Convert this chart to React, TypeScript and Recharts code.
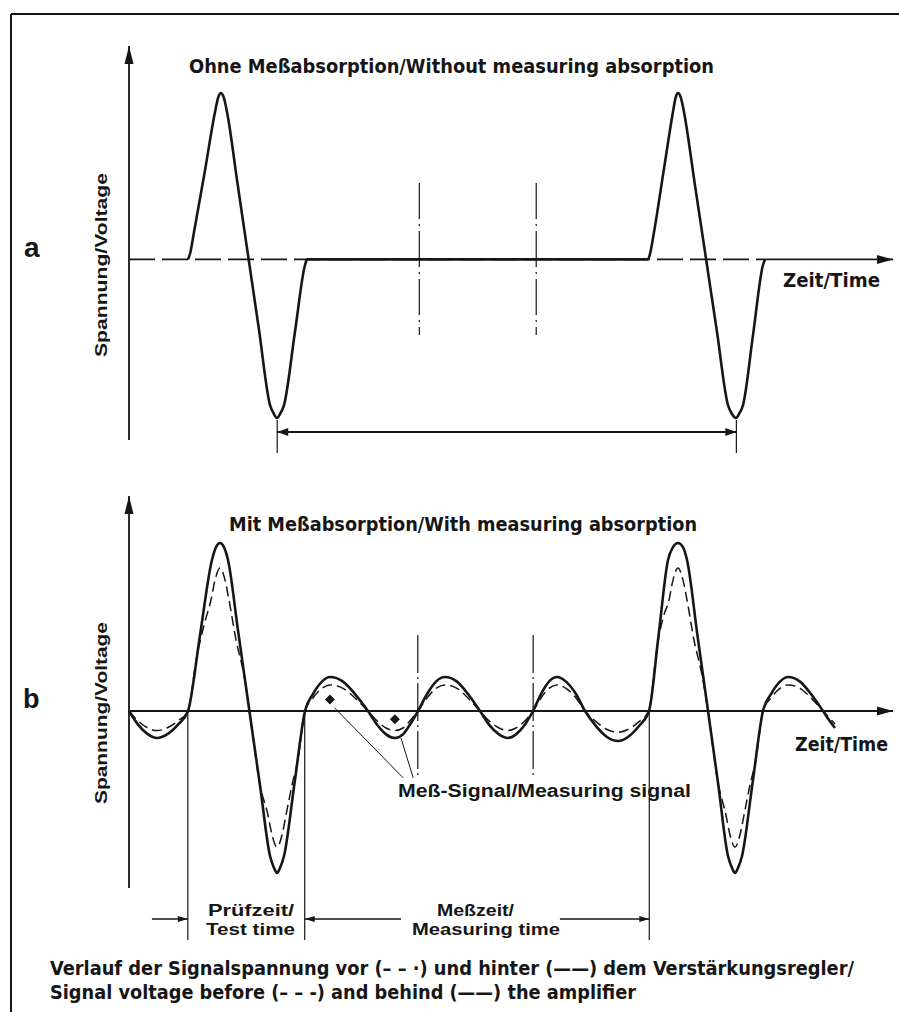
import React from 'react';
import { ComposedChart, Line, XAxis, YAxis, ReferenceLine, ReferenceDot } from 'recharts';

const INK = '#161616';

// time runs 0..100 along the axis, voltage in units of the full pulse height

// panel a: without measuring absorption
const aTime = [
  7.72, 7.98, 8.51, 9.9, 11.26, 11.65, 12.04, 12.43, 12.83, 14.2, 15.6, 17.0, 18.46, 18.98, 19.37, 19.76, 20.29, 21.7, 23.04, 23.3,
  67.93, 68.19, 68.72, 69.96, 71.2, 71.53, 71.86, 72.25, 72.64, 74.08, 75.54, 76.96, 78.4, 78.93, 79.45, 79.84, 80.37, 81.68, 82.98, 83.25,
];
const aVolt = [
  0, 0.033, 0.167, 0.53, 0.898, 0.983, 1.013, 0.983, 0.898, 0.464, 0.02, -0.424, -0.887, -0.942, -0.966, -0.942, -0.887, -0.45, -0.034, 0,
  0, 0.033, 0.167, 0.533, 0.898, 0.983, 1.013, 0.983, 0.898, 0.452, 0, -0.441, -0.887, -0.942, -0.966, -0.942, -0.887, -0.46, -0.034, 0,
];

// panel b: with measuring absorption, behind the amplifier (solid)
const bTime = [
  0, 1.18, 2.49, 3.66, 4.97, 6.41, 7.72, 9.29, 10.86, 11.39, 11.91, 12.43, 12.96, 14.27, 15.76, 17.15, 18.46, 18.98, 19.37, 19.76, 20.29, 21.66, 23.04,
  24.08, 25.26, 26.31, 28.01, 29.58, 31.28, 32.46, 33.64, 34.82, 35.86, 36.78, 37.83, 39.01, 40.18, 41.36, 42.93, 44.37, 45.94,
  47.12, 48.43, 49.61, 50.65, 51.83, 52.88, 53.93, 54.97, 56.02, 57.2, 58.51, 59.69, 61.13, 62.57, 64.01, 65.31, 66.75, 68.06,
  69.31, 70.55, 71.2, 71.86, 72.51, 73.04, 74.41, 75.79, 77.1, 78.4, 78.93, 79.32, 79.71, 80.24, 81.61, 82.98,
  84.03, 85.21, 86.26, 87.83, 89.27, 90.84, 91.62, 92.41,
];
const bSolid = [
  0, -0.083, -0.143, -0.165, -0.143, -0.083, 0, 0.463, 0.925, 1.004, 1.029, 1.004, 0.925, 0.493, 0, -0.456, -0.888, -0.961, -0.992, -0.961, -0.888, -0.444, 0,
  0.104, 0.18, 0.208, 0.18, 0.104, 0, -0.083, -0.143, -0.165, -0.143, -0.083, 0, 0.104, 0.18, 0.208, 0.18, 0.104, 0,
  -0.083, -0.143, -0.165, -0.143, -0.083, 0, 0.104, 0.18, 0.208, 0.18, 0.104, 0, -0.092, -0.159, -0.184, -0.159, -0.092, 0,
  0.462, 0.925, 1.004, 1.029, 1.004, 0.925, 0.462, 0, -0.441, -0.888, -0.961, -0.992, -0.961, -0.888, -0.444, 0,
  0.104, 0.18, 0.208, 0.18, 0.104, 0, -0.055, -0.104,
];

// panel b: before the amplifier (dashed)
const bDashTime = [
  0, 1.18, 2.49, 3.66, 4.97, 6.41, 7.72, 8.77, 9.82, 10.73, 11.26, 11.91, 12.57, 13.09, 14.01, 15.05, 15.76,
  17.15, 18.19, 18.72, 19.37, 20.03, 20.55, 21.34, 22.12, 23.04,
  24.08, 25.26, 26.31, 28.01, 29.58, 31.28, 32.46, 33.64, 34.82, 35.86, 36.78, 37.83, 39.01, 40.18, 41.36, 42.93, 44.37, 45.94,
  47.12, 48.43, 49.61, 50.65, 51.83, 52.88, 53.93, 54.97, 56.02, 57.2, 58.51, 59.69, 61.13, 62.57, 64.01, 65.31, 66.75, 68.06,
  69.11, 69.9, 70.68, 71.2, 71.86, 72.51, 73.04, 73.95, 75.0, 75.79,
  77.1, 78.14, 78.66, 79.32, 79.97, 80.5, 81.28, 82.07, 82.98,
  84.03, 85.21, 86.26, 87.83, 89.27, 90.84, 91.62, 92.41,
];
const bDashed = [
  0, -0.06, -0.104, -0.12, -0.104, -0.06, 0, 0.306, 0.527, 0.68, 0.802, 0.876, 0.802, 0.68, 0.435, 0.22, 0,
  -0.456, -0.637, -0.759, -0.833, -0.759, -0.637, -0.453, -0.294, 0,
  0.08, 0.139, 0.16, 0.139, 0.08, 0, -0.06, -0.104, -0.12, -0.104, -0.06, 0, 0.08, 0.139, 0.16, 0.139, 0.08, 0,
  -0.06, -0.104, -0.12, -0.104, -0.06, 0, 0.08, 0.139, 0.16, 0.139, 0.08, 0, -0.065, -0.113, -0.13, -0.113, -0.065, 0,
  0.386, 0.57, 0.68, 0.802, 0.876, 0.802, 0.68, 0.435, 0.22, 0,
  -0.441, -0.637, -0.759, -0.833, -0.759, -0.637, -0.453, -0.294, 0,
  0.08, 0.139, 0.16, 0.139, 0.08, 0, -0.04, -0.08,
];

const aDashDot = [38.0, 53.3];
const aPeriod = [19.4, 79.5];
const bDashDot = [37.8, 52.9];
const bLimits = [7.7, 23.0, 68.1]; // start test time, start / end measuring time
const bDiamonds = [{ t: 26.3, v: 0.07 }, { t: 34.8, v: -0.05 }];

const rows = (ts: number[], vs: number[]) => ts.map((t, i) => ({ t, v: vs[i] }));

const headPts = (tx: number, ty: number, fx: number, fy: number, len: number, half: number) => {
  const dx = tx - fx;
  const dy = ty - fy;
  const d = Math.hypot(dx, dy) || 1;
  const ux = dx / d;
  const uy = dy / d;
  const bx = tx - ux * len;
  const by = ty - uy * len;
  return `${tx},${ty} ${bx - uy * half},${by + ux * half} ${bx + uy * half},${by - ux * half}`;
};

type ArrowOpts = { start?: boolean; end?: boolean; len?: number; half?: number; w?: number; dash?: string };

const arrow = (o: ArrowOpts) => (p: any) => {
  const { x1, y1, x2, y2 } = p;
  const len = o.len ?? 12;
  const half = o.half ?? 3.5;
  return (
    <g>
      <line x1={x1} y1={y1} x2={x2} y2={y2} stroke={INK} strokeWidth={o.w ?? 1.5} strokeDasharray={o.dash} />
      {o.end && <polygon points={headPts(x2, y2, x1, y1, len, half)} fill={INK} />}
      {o.start && <polygon points={headPts(x1, y1, x2, y2, len, half)} fill={INK} />}
    </g>
  );
};

const diamond = (p: any) => (
  <polygon
    points={`${p.cx},${p.cy - 5} ${p.cx + 5},${p.cy} ${p.cx},${p.cy + 5} ${p.cx - 5},${p.cy}`}
    fill={INK}
  />
);

const narrow = "'Liberation Sans Narrow', 'DejaVu Sans Condensed', 'Liberation Sans', Arial, sans-serif";
const wide = "'Liberation Sans', Arial, sans-serif";

type Txt = { s: string; x: number; y: number; w: number; size: number; font?: string };

const texts: Txt[] = [
  { s: 'Ohne Meßabsorption/Without measuring absorption', x: 189, y: 73, w: 525, size: 20 },
  { s: 'Zeit/Time', x: 783, y: 287, w: 97, size: 20 },
  { s: 'Mit Meßabsorption/With measuring absorption', x: 229, y: 531, w: 468, size: 19 },
  { s: 'Zeit/Time', x: 795, y: 751, w: 93, size: 20 },
  { s: 'Meß-Signal/Measuring signal', x: 398, y: 797, w: 293, size: 18, font: wide },
  { s: 'Prüfzeit/', x: 208, y: 916, w: 86, size: 17, font: wide },
  { s: 'Test time', x: 206, y: 935, w: 89, size: 17, font: wide },
  { s: 'Meßzeit/', x: 437, y: 916, w: 77, size: 17, font: wide },
  { s: 'Measuring time', x: 412, y: 935, w: 148, size: 17, font: wide },
  { s: 'Verlauf der Signalspannung vor (– – ·) und hinter (——) dem Verstärkungsregler/', x: 50, y: 975, w: 804, size: 19 },
  { s: 'Signal voltage before (– – -) and behind (——) the amplifier', x: 50, y: 999, w: 586, size: 19 },
];

const Panel: React.FC<{ top: number; height: number; margin: any; domain: [number, number]; children: React.ReactNode }> = ({ top, height, margin, domain, children }) => (
  <div style={{ position: 'absolute', left: 0, top }}>
    <ComposedChart width={899} height={height} margin={margin}>
      <XAxis type="number" dataKey="t" domain={[0, 100]} scale="linear" hide />
      <YAxis type="number" domain={domain} scale="linear" hide />
      {children}
    </ComposedChart>
  </div>
);

export default function App() {
  const aDom: [number, number] = [-1.1, 1.3];
  const bDom: [number, number] = [-1.084, 1.317];
  return (
    <div style={{ position: 'absolute', left: 0, top: 0, width: 899, height: 1012, background: '#fff', overflow: 'hidden' }}>
      <Panel top={0} height={470} margin={{ top: 46, right: 6, bottom: 30, left: 129 }} domain={aDom}>
        <ReferenceLine segment={[{ x: 0, y: aDom[0] }, { x: 0, y: aDom[1] }]} ifOverflow="visible" shape={arrow({ end: true, len: 18, half: 4.5, w: 1.8 })} />
        <ReferenceLine segment={[{ x: 0, y: 0 }, { x: 83.4, y: 0 }]} ifOverflow="visible" shape={arrow({ w: 1.8, dash: '26 7' })} />
        <ReferenceLine segment={[{ x: 83.4, y: 0 }, { x: 100, y: 0 }]} ifOverflow="visible" shape={arrow({ end: true, len: 16, half: 4.5, w: 1.8 })} />
        {aDashDot.map((t) => (
          <ReferenceLine key={t} segment={[{ x: t, y: 0.465 }, { x: t, y: -0.46 }]} ifOverflow="visible" shape={arrow({ w: 1.2, dash: '36 5 2 5' })} />
        ))}
        <ReferenceLine segment={[{ x: aPeriod[0], y: -1.051 }, { x: aPeriod[1], y: -1.051 }]} ifOverflow="visible" shape={arrow({ start: true, end: true, len: 11, half: 4, w: 2 })} />
        {aPeriod.map((t) => (
          <ReferenceLine key={t} segment={[{ x: t, y: -0.978 }, { x: t, y: -1.179 }]} ifOverflow="visible" shape={arrow({ w: 1.2 })} />
        ))}
        <Line data={rows(aTime, aVolt)} dataKey="v" type="monotone" stroke={INK} strokeWidth={2.6} dot={false} isAnimationActive={false} />
      </Panel>

      <Panel top={470} height={542} margin={{ top: 26, right: 6, bottom: 124, left: 129 }} domain={bDom}>
        <ReferenceLine segment={[{ x: 0, y: bDom[0] }, { x: 0, y: bDom[1] }]} ifOverflow="visible" shape={arrow({ end: true, len: 18, half: 4.5, w: 1.8 })} />
        <ReferenceLine segment={[{ x: 0, y: 0 }, { x: 100, y: 0 }]} ifOverflow="visible" shape={arrow({ end: true, len: 16, half: 4.5, w: 2 })} />
        {bDashDot.map((t) => (
          <ReferenceLine key={t} segment={[{ x: t, y: 0.465 }, { x: t, y: -0.41 }]} ifOverflow="visible" shape={arrow({ w: 1.2, dash: '38 4 2 4' })} />
        ))}
        {bLimits.map((t) => (
          <ReferenceLine key={t} segment={[{ x: t, y: 0 }, { x: t, y: -1.402 }]} ifOverflow="visible" shape={arrow({ w: 1.2 })} />
        ))}
        <ReferenceLine segment={[{ x: 3.0, y: -1.274 }, { x: bLimits[0], y: -1.274 }]} ifOverflow="visible" shape={arrow({ end: true, len: 10, half: 3, w: 1.6 })} />
        <ReferenceLine segment={[{ x: 35.6, y: -1.274 }, { x: bLimits[1], y: -1.274 }]} ifOverflow="visible" shape={arrow({ end: true, len: 10, half: 3, w: 1.6 })} />
        <ReferenceLine segment={[{ x: 56.4, y: -1.274 }, { x: bLimits[2], y: -1.274 }]} ifOverflow="visible" shape={arrow({ end: true, len: 10, half: 3, w: 1.6 })} />
        <ReferenceLine segment={[{ x: 26.9, y: 0.02 }, { x: 35.9, y: -0.41 }]} ifOverflow="visible" shape={arrow({ w: 1 })} />
        <ReferenceLine segment={[{ x: 35.6, y: -0.165 }, { x: 37.2, y: -0.41 }]} ifOverflow="visible" shape={arrow({ w: 1 })} />
        {bDiamonds.map((d) => (
          <ReferenceDot key={d.t} x={d.t} y={d.v} r={5} ifOverflow="visible" shape={diamond} />
        ))}
        <Line data={rows(bDashTime, bDashed)} dataKey="v" type="monotone" stroke={INK} strokeWidth={1.5} strokeDasharray="10 5" dot={false} isAnimationActive={false} />
        <Line data={rows(bTime, bSolid)} dataKey="v" type="monotone" stroke={INK} strokeWidth={2.6} dot={false} isAnimationActive={false} />
      </Panel>

      <svg width={899} height={1012} style={{ position: 'absolute', left: 0, top: 0, pointerEvents: 'none' }}>
        <line x1={11} y1={14} x2={11} y2={1012} stroke={INK} strokeWidth={2} />
        <line x1={11} y1={14} x2={899} y2={14} stroke={INK} strokeWidth={2} />
        <text x={24} y={257} fontFamily={wide} fontWeight="bold" fontSize={28} fill={INK}>a</text>
        <text x={23} y={708} fontFamily={wide} fontWeight="bold" fontSize={27} fill={INK}>b</text>
        <text x={107} y={265} transform="rotate(-90 107 265)" textAnchor="middle" textLength={184} lengthAdjust="spacingAndGlyphs" fontFamily={wide} fontWeight="bold" fontSize={17} fill={INK}>Spannung/Voltage</text>
        <text x={107} y={713} transform="rotate(-90 107 713)" textAnchor="middle" textLength={182} lengthAdjust="spacingAndGlyphs" fontFamily={wide} fontWeight="bold" fontSize={17} fill={INK}>Spannung/Voltage</text>
        {texts.map((t, i) => (
          <text key={i} x={t.x} y={t.y} textLength={t.w} lengthAdjust="spacingAndGlyphs" fontFamily={t.font ?? narrow} fontWeight="bold" fontSize={t.size} fill={INK}>
            {t.s}
          </text>
        ))}
      </svg>
    </div>
  );
}
